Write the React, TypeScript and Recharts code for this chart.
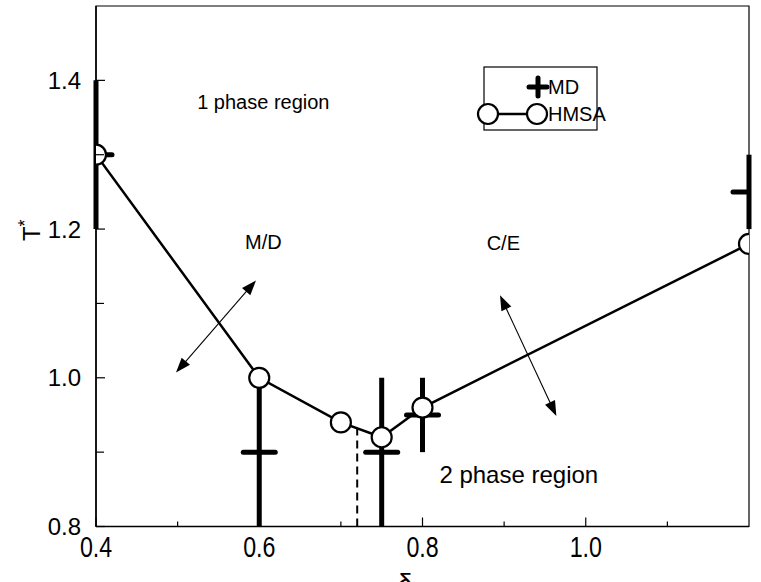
import React from 'react';
import {
  ComposedChart,
  Line,
  Scatter,
  XAxis,
  YAxis,
  ErrorBar,
  ReferenceLine,
  ReferenceArea,
  ReferenceDot,
  Label,
} from 'recharts';

const FONT = '"Liberation Sans", Arial, Helvetica, sans-serif';

// HMSA closure: critical temperature vs. delta
const hmsaDelta = [0.4, 0.6, 0.7, 0.75, 0.8, 1.2];
const hmsaT = [1.3, 1.0, 0.94, 0.92, 0.96, 1.18];

// MD simulation estimates with their uncertainty
const mdDelta = [0.4, 0.6, 0.75, 0.8, 1.2];
const mdT = [1.3, 0.9, 0.9, 0.95, 1.25];
const mdErr = [0.1, 0.1, 0.1, 0.05, 0.05];

// axis ticks
const xMajorTicks = [0.4, 0.6, 0.8, 1.0];
const xMinorTicks = [0.5, 0.7, 0.9, 1.1];
const yMajorTicks = [0.8, 1.0, 1.2, 1.4];
const yMinorTicks = [0.9, 1.1, 1.3];

// dashed marker of the minimum between the two branches
const minDelta = 0.72;
const minT = 0.932;

// region labels and the arrows across the boundary
const regionLabels = [
  { x: 0.605, y: 1.361, text: '1 phase region', size: 20 },
  { x: 0.605, y: 1.173, text: 'M/D', size: 20 },
  { x: 0.899, y: 1.172, text: 'C/E', size: 20 },
  { x: 0.918, y: 0.8585, text: '2 phase region', size: 24 },
];
const arrows = [
  { from: { x: 0.498, y: 1.007 }, to: { x: 0.596, y: 1.131 } },
  { from: { x: 0.895, y: 1.111 }, to: { x: 0.964, y: 0.9486 } },
];

const hmsaData = hmsaDelta.map((x, i) => ({ x, t: hmsaT[i] }));
const mdData = mdDelta.map((x, i) => ({ x, t: mdT[i], err: mdErr[i] }));

const xTicks = [...xMajorTicks, ...xMinorTicks].sort((a, b) => a - b);
const yTicks = [...yMajorTicks, ...yMinorTicks].sort((a, b) => a - b);

const isMajor = (list: number[], v: number) => list.some((m) => Math.abs(m - v) < 1e-9);

const XTick = (props: any) => {
  const { x, y, payload } = props;
  const major = isMajor(xMajorTicks, payload.value);
  return (
    <g>
      <line x1={x} y1={y} x2={x} y2={y - (major ? 9 : 5)} stroke="#000" strokeWidth={1.2} />
      {major && (
        <text
          transform={`translate(${x},${y + 30.5}) scale(0.8,1)`}
          textAnchor="middle"
          fontFamily={FONT}
          fontSize={29}
          fill="#000"
        >
          {payload.value.toFixed(1)}
        </text>
      )}
    </g>
  );
};

const YTick = (props: any) => {
  const { x, y, payload } = props;
  const major = isMajor(yMajorTicks, payload.value);
  return (
    <g>
      <line x1={x} y1={y} x2={x + (major ? 9 : 8)} y2={y} stroke="#000" strokeWidth={1.2} />
      {major && (
        <text x={x - 15} y={y + 8.5} textAnchor="end" fontFamily={FONT} fontSize={24} fill="#000">
          {payload.value.toFixed(1)}
        </text>
      )}
    </g>
  );
};

const HmsaDot = (props: any) => {
  const { cx, cy, index } = props;
  if (cx == null || cy == null) return null;
  return <circle key={`h-${index}`} cx={cx} cy={cy} r={10} fill="#fff" stroke="#000" strokeWidth={2.2} />;
};

const MdShape = (props: any) => {
  const { cx, cy } = props;
  return (
    <line x1={cx - 16} y1={cy} x2={cx + 16} y2={cy} stroke="#000" strokeWidth={5} strokeLinecap="round" />
  );
};

const DoubleArrow = (props: any) => {
  const { x1, y1, x2, y2 } = props;
  const dx = x2 - x1;
  const dy = y2 - y1;
  const len = Math.sqrt(dx * dx + dy * dy);
  const ux = dx / len;
  const uy = dy / len;
  const head = 15;
  const half = 5.5;
  const tri = (tx: number, ty: number, dirx: number, diry: number) => {
    const bx = tx - dirx * head;
    const by = ty - diry * head;
    return `${tx},${ty} ${bx - diry * half},${by + dirx * half} ${bx + diry * half},${by - dirx * half}`;
  };
  return (
    <g>
      <line x1={x1 + ux * 10} y1={y1 + uy * 10} x2={x2 - ux * 10} y2={y2 - uy * 10} stroke="#000" strokeWidth={1.1} />
      <polygon points={tri(x2, y2, ux, uy)} fill="#000" />
      <polygon points={tri(x1, y1, -ux, -uy)} fill="#000" />
    </g>
  );
};

const Legend = () => (
  <svg
    width={761}
    height={582}
    style={{ position: 'absolute', left: 0, top: 0, pointerEvents: 'none' }}
  >
    <rect x={484} y={67} width={113} height={63} fill="#fff" stroke="#000" strokeWidth={1.2} />
    <line x1={529} y1={87} x2={547} y2={87} stroke="#000" strokeWidth={5} strokeLinecap="round" />
    <line x1={538} y1={78} x2={538} y2={96} stroke="#000" strokeWidth={5} strokeLinecap="round" />
    <text x={548} y={94} fontFamily={FONT} fontSize={20} fill="#000">
      MD
    </text>
    <line x1={488} y1={114} x2={537} y2={114} stroke="#000" strokeWidth={2.5} />
    <circle cx={488} cy={114} r={10} fill="#fff" stroke="#000" strokeWidth={2.2} />
    <circle cx={537} cy={114} r={10} fill="#fff" stroke="#000" strokeWidth={2.2} />
    <text x={548} y={121} fontFamily={FONT} fontSize={20} fill="#000">
      HMSA
    </text>
  </svg>
);

export default function App() {
  return (
    <div
      style={{
        position: 'absolute',
        left: 0,
        top: 0,
        width: 761,
        height: 582,
        overflow: 'hidden',
        background: '#fff',
      }}
    >
      <ComposedChart width={761} height={582} margin={{ top: 6, right: 12, bottom: 0, left: 0 }}>
        <XAxis
          dataKey="x"
          type="number"
          domain={[0.4, 1.2]}
          ticks={xTicks}
          interval={0}
          allowDataOverflow
          height={55.5}
          tickSize={0}
          tickMargin={0}
          tick={<XTick />}
          axisLine={{ stroke: '#000', strokeWidth: 1.5 }}
        >
          <Label
            content={(p: any) => {
              const vb = p.viewBox || {};
              return (
                <text x={vb.x + 309} y={vb.y + 66} textAnchor="middle" fontFamily={FONT} fontSize={28} fill="#000">
                  δ
                </text>
              );
            }}
          />
        </XAxis>
        <YAxis
          type="number"
          domain={[0.8, 1.5]}
          ticks={yTicks}
          interval={0}
          allowDataOverflow
          width={96}
          tickSize={0}
          tickMargin={0}
          tick={<YTick />}
          axisLine={{ stroke: '#000', strokeWidth: 1.5 }}
        >
          <Label
            content={(p: any) => {
              const vb = p.viewBox || {};
              const cx = vb.x + 31;
              const cy = vb.y + vb.height / 2 - 36;
              return (
                <text
                  transform={`translate(${cx},${cy}) rotate(-90)`}
                  textAnchor="middle"
                  dominantBaseline="central"
                  fontFamily={FONT}
                  fontSize={24}
                  fill="#000"
                >
                  T
                  <tspan dy={-6} fontSize={18}>
                    *
                  </tspan>
                </text>
              );
            }}
          />
        </YAxis>

        <ReferenceArea
          x1={0.4}
          x2={1.2}
          y1={0.8}
          y2={1.5}
          fill="none"
          fillOpacity={0}
          stroke="#000"
          strokeWidth={1.2}
          ifOverflow="visible"
        />

        <ReferenceLine
          segment={[
            { x: minDelta, y: 0.8 },
            { x: minDelta, y: minT },
          ]}
          stroke="#000"
          strokeWidth={2}
          strokeDasharray="8 5"
          ifOverflow="visible"
        />

        {arrows.map((a, i) => (
          <ReferenceLine
            key={`arrow-${i}`}
            segment={[a.from, a.to]}
            ifOverflow="visible"
            shape={(p: any) => <DoubleArrow {...p} />}
          />
        ))}

        {regionLabels.map((l, i) => (
          <ReferenceDot
            key={`lbl-${i}`}
            x={l.x}
            y={l.y}
            r={0}
            ifOverflow="visible"
            shape={(p: any) => (
              <text x={p.cx} y={p.cy} textAnchor="middle" fontFamily={FONT} fontSize={l.size} fill="#000">
                {l.text}
              </text>
            )}
          />
        ))}

        <Scatter data={mdData} dataKey="t" shape={<MdShape />} isAnimationActive={false}>
          <ErrorBar dataKey="err" direction="y" width={0} strokeWidth={5} stroke="#000" isAnimationActive={false} />
        </Scatter>

        <Line
          data={hmsaData}
          dataKey="t"
          type="linear"
          stroke="#000"
          strokeWidth={2.5}
          dot={<HmsaDot />}
          activeDot={false}
          isAnimationActive={false}
        />
      </ComposedChart>
      <Legend />
    </div>
  );
}
